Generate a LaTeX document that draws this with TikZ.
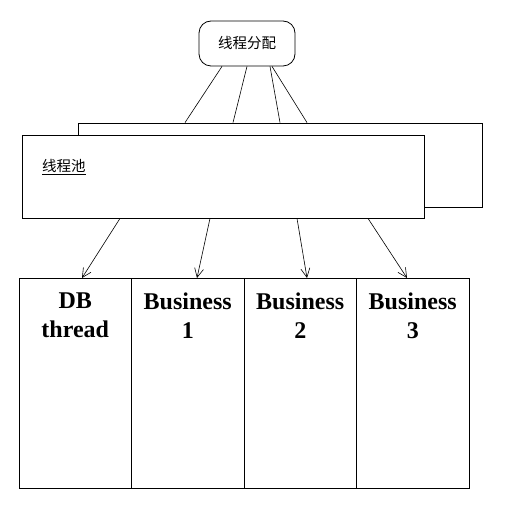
\documentclass[tikz,border=0pt]{standalone}
\usepackage{fontspec}
\setmainfont{Liberation Serif}
\newfontfamily\cjk{Noto Sans CJK SC}
\usetikzlibrary{positioning,arrows.meta}
\tikzset{
    frame/.style={draw, line width=0.8pt},
    part/.style={frame, outer sep=0pt, minimum width=112.5pt, minimum height=210pt},
    partlabel/.style={anchor=north, yshift=-11.5pt, align=center, font={\bfseries\fontsize{24}{29}\selectfont}},
    link/.style={line width=0.6pt},
    task/.style={link, -{Straight Barb[length=9pt,width=9pt]}}
}
\begin{document}
\begin{tikzpicture}[x=1pt, y=-1pt, node distance=0pt]
    \useasboundingbox (0,0) rectangle (504,518);
    \node[frame, minimum width=404pt, minimum height=84pt] (poolback) at (280,165) {};
    \node[frame, fill=white, minimum width=402pt, minimum height=83pt] (pool) at (223,176.5) {};
    \node[anchor=base west, font={\cjk\fontsize{14.5}{16}\selectfont}] (poolname) at (38.7,172) {\underline{线程池}};
    \node[frame, rounded corners=12pt, minimum width=96pt, minimum height=45pt,
        font={\cjk\fontsize{14.5}{16}\selectfont}] (alloc) at (247,43.5) {线程分配};
    \foreach \s/\e in {-25/-95, 0/-47, 23/0, 25/27}
        \draw[link] ([xshift=\s pt]alloc.south) -- ([xshift=\e pt]poolback.north);
    \node[part, label={[partlabel]north:DB\\thread}] (db) at (75.25,383) {};
    \node[part, right=of db, label={[partlabel]north:Business\\1}] (biz1) {};
    \node[part, right=of biz1, label={[partlabel]north:Business\\2}] (biz2) {};
    \node[part, right=of biz2, label={[partlabel]north:Business\\3}] (biz3) {};
    \foreach \s/\e/\b in {-103/6.75/db, -13/9.25/biz1, 74/6.75/biz2, 145/-5.75/biz3}
        \draw[task] ([xshift=\s pt]pool.south) -- ([xshift=\e pt]\b.north);
\end{tikzpicture}
\end{document}
